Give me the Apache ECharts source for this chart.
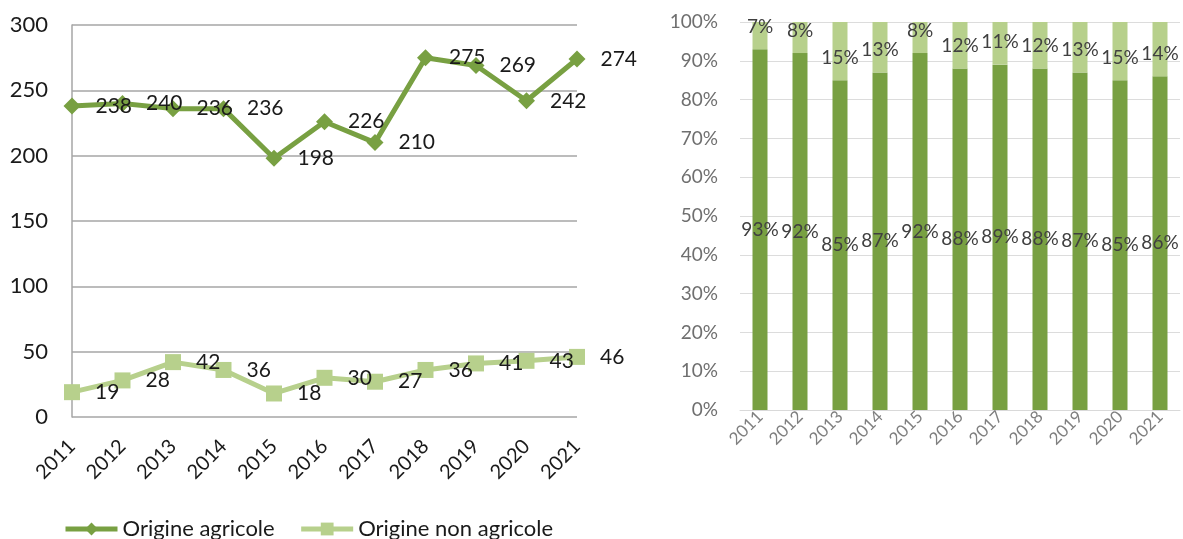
<!DOCTYPE html>
<html>
<head>
<meta charset="utf-8">
<script src="https://cdn.jsdelivr.net/npm/echarts@6/dist/echarts.min.js"></script>
<style>
  html, body { margin: 0; padding: 0; background: #fff; }
  #main { width: 1183px; height: 539px; }
</style>
</head>
<body>
<div id="main"></div>
<script>
  // données
  var years = ['2011', '2012', '2013', '2014', '2015', '2016', '2017', '2018', '2019', '2020', '2021'];
  var agricole = [238, 240, 236, 236, 198, 226, 210, 275, 269, 242, 274];
  var nonAgricole = [19, 28, 42, 36, 18, 30, 27, 36, 41, 43, 46];
  var partAgricole = [93, 92, 85, 87, 92, 88, 89, 88, 87, 85, 86];
  var partNonAgricole = [7, 8, 15, 13, 8, 12, 11, 12, 13, 15, 14];
  var leftTicks = [0, 50, 100, 150, 200, 250, 300];

  var dark = '#78a042';
  var light = '#b7d08c';
  var font = 'Lato, "Open Sans", sans-serif';

  var chart = echarts.init(document.getElementById('main'));
  var option = {
    animation: false,
    textStyle: { fontFamily: font },
    legend: {
      left: 58, top: 513,
      itemWidth: 52, itemHeight: 16, itemGap: 24,
      lineStyle: { width: 5 },
      textStyle: { fontSize: 22, color: '#1a1a1a', fontFamily: font },
      data: ['Origine agricole', 'Origine non agricole']
    },
    grid: [
      { left: 72, width: 505, top: 25, height: 392 },
      { left: 740, width: 440, top: 22, height: 388 }
    ],
    xAxis: [
      {
        gridIndex: 0, type: 'category', data: years, boundaryGap: false,
        axisLine: { show: false }, axisTick: { show: false },
        axisLabel: { rotate: 45, fontSize: 20, color: '#1a1a1a', margin: 26, fontFamily: font }
      },
      {
        gridIndex: 1, type: 'category', data: years,
        axisLine: { lineStyle: { color: '#d9d9d9' } }, axisTick: { show: false },
        axisLabel: { rotate: 45, fontSize: 17, color: '#808080', margin: 4, fontFamily: font }
      }
    ],
    yAxis: [
      {
        gridIndex: 0, type: 'value', min: leftTicks[0], max: leftTicks[leftTicks.length - 1], interval: 50,
        axisLine: { show: true, lineStyle: { color: '#a6a6a6', width: 1.5 } }, axisTick: { show: false },
        splitLine: { lineStyle: { color: '#a6a6a6', width: 1.5 } },
        axisLabel: { fontSize: 22, color: '#1a1a1a', margin: 24, fontFamily: font }
      },
      {
        gridIndex: 1, type: 'value', min: 0, max: 100, interval: 10,
        axisLine: { show: false }, axisTick: { show: false },
        splitLine: { lineStyle: { color: '#dcdcdc' } },
        axisLabel: { fontSize: 19, color: '#6f6f6f', margin: 22, formatter: '{value}%', fontFamily: font }
      }
    ],
    series: [
      {
        name: 'Origine agricole', type: 'line', xAxisIndex: 0, yAxisIndex: 0,
        data: agricole, symbol: 'diamond', symbolSize: 17,
        lineStyle: { color: dark, width: 5 }, itemStyle: { color: dark },
        label: { show: true, position: 'right', distance: 15, fontSize: 21, color: '#1a1a1a', fontFamily: font }
      },
      {
        name: 'Origine non agricole', type: 'line', xAxisIndex: 0, yAxisIndex: 0,
        data: nonAgricole, symbol: 'rect', symbolSize: 16,
        lineStyle: { color: light, width: 5 }, itemStyle: { color: light },
        label: { show: true, position: 'right', distance: 15, fontSize: 21, color: '#1a1a1a', fontFamily: font }
      },
      {
        name: 'Part agricole', type: 'bar', xAxisIndex: 1, yAxisIndex: 1, stack: 'part',
        data: partAgricole, barWidth: 15, itemStyle: { color: dark },
        label: { show: true, position: 'inside', formatter: '{c}%', fontSize: 19, color: '#404040', fontFamily: font }
      },
      {
        name: 'Part non agricole', type: 'bar', xAxisIndex: 1, yAxisIndex: 1, stack: 'part',
        data: partNonAgricole, barWidth: 15, itemStyle: { color: light },
        label: { show: true, position: 'insideBottom', distance: 13, formatter: '{c}%', fontSize: 19, color: '#404040', fontFamily: font }
      }
    ]
  };
  chart.setOption(option);
</script>
</body>
</html>
